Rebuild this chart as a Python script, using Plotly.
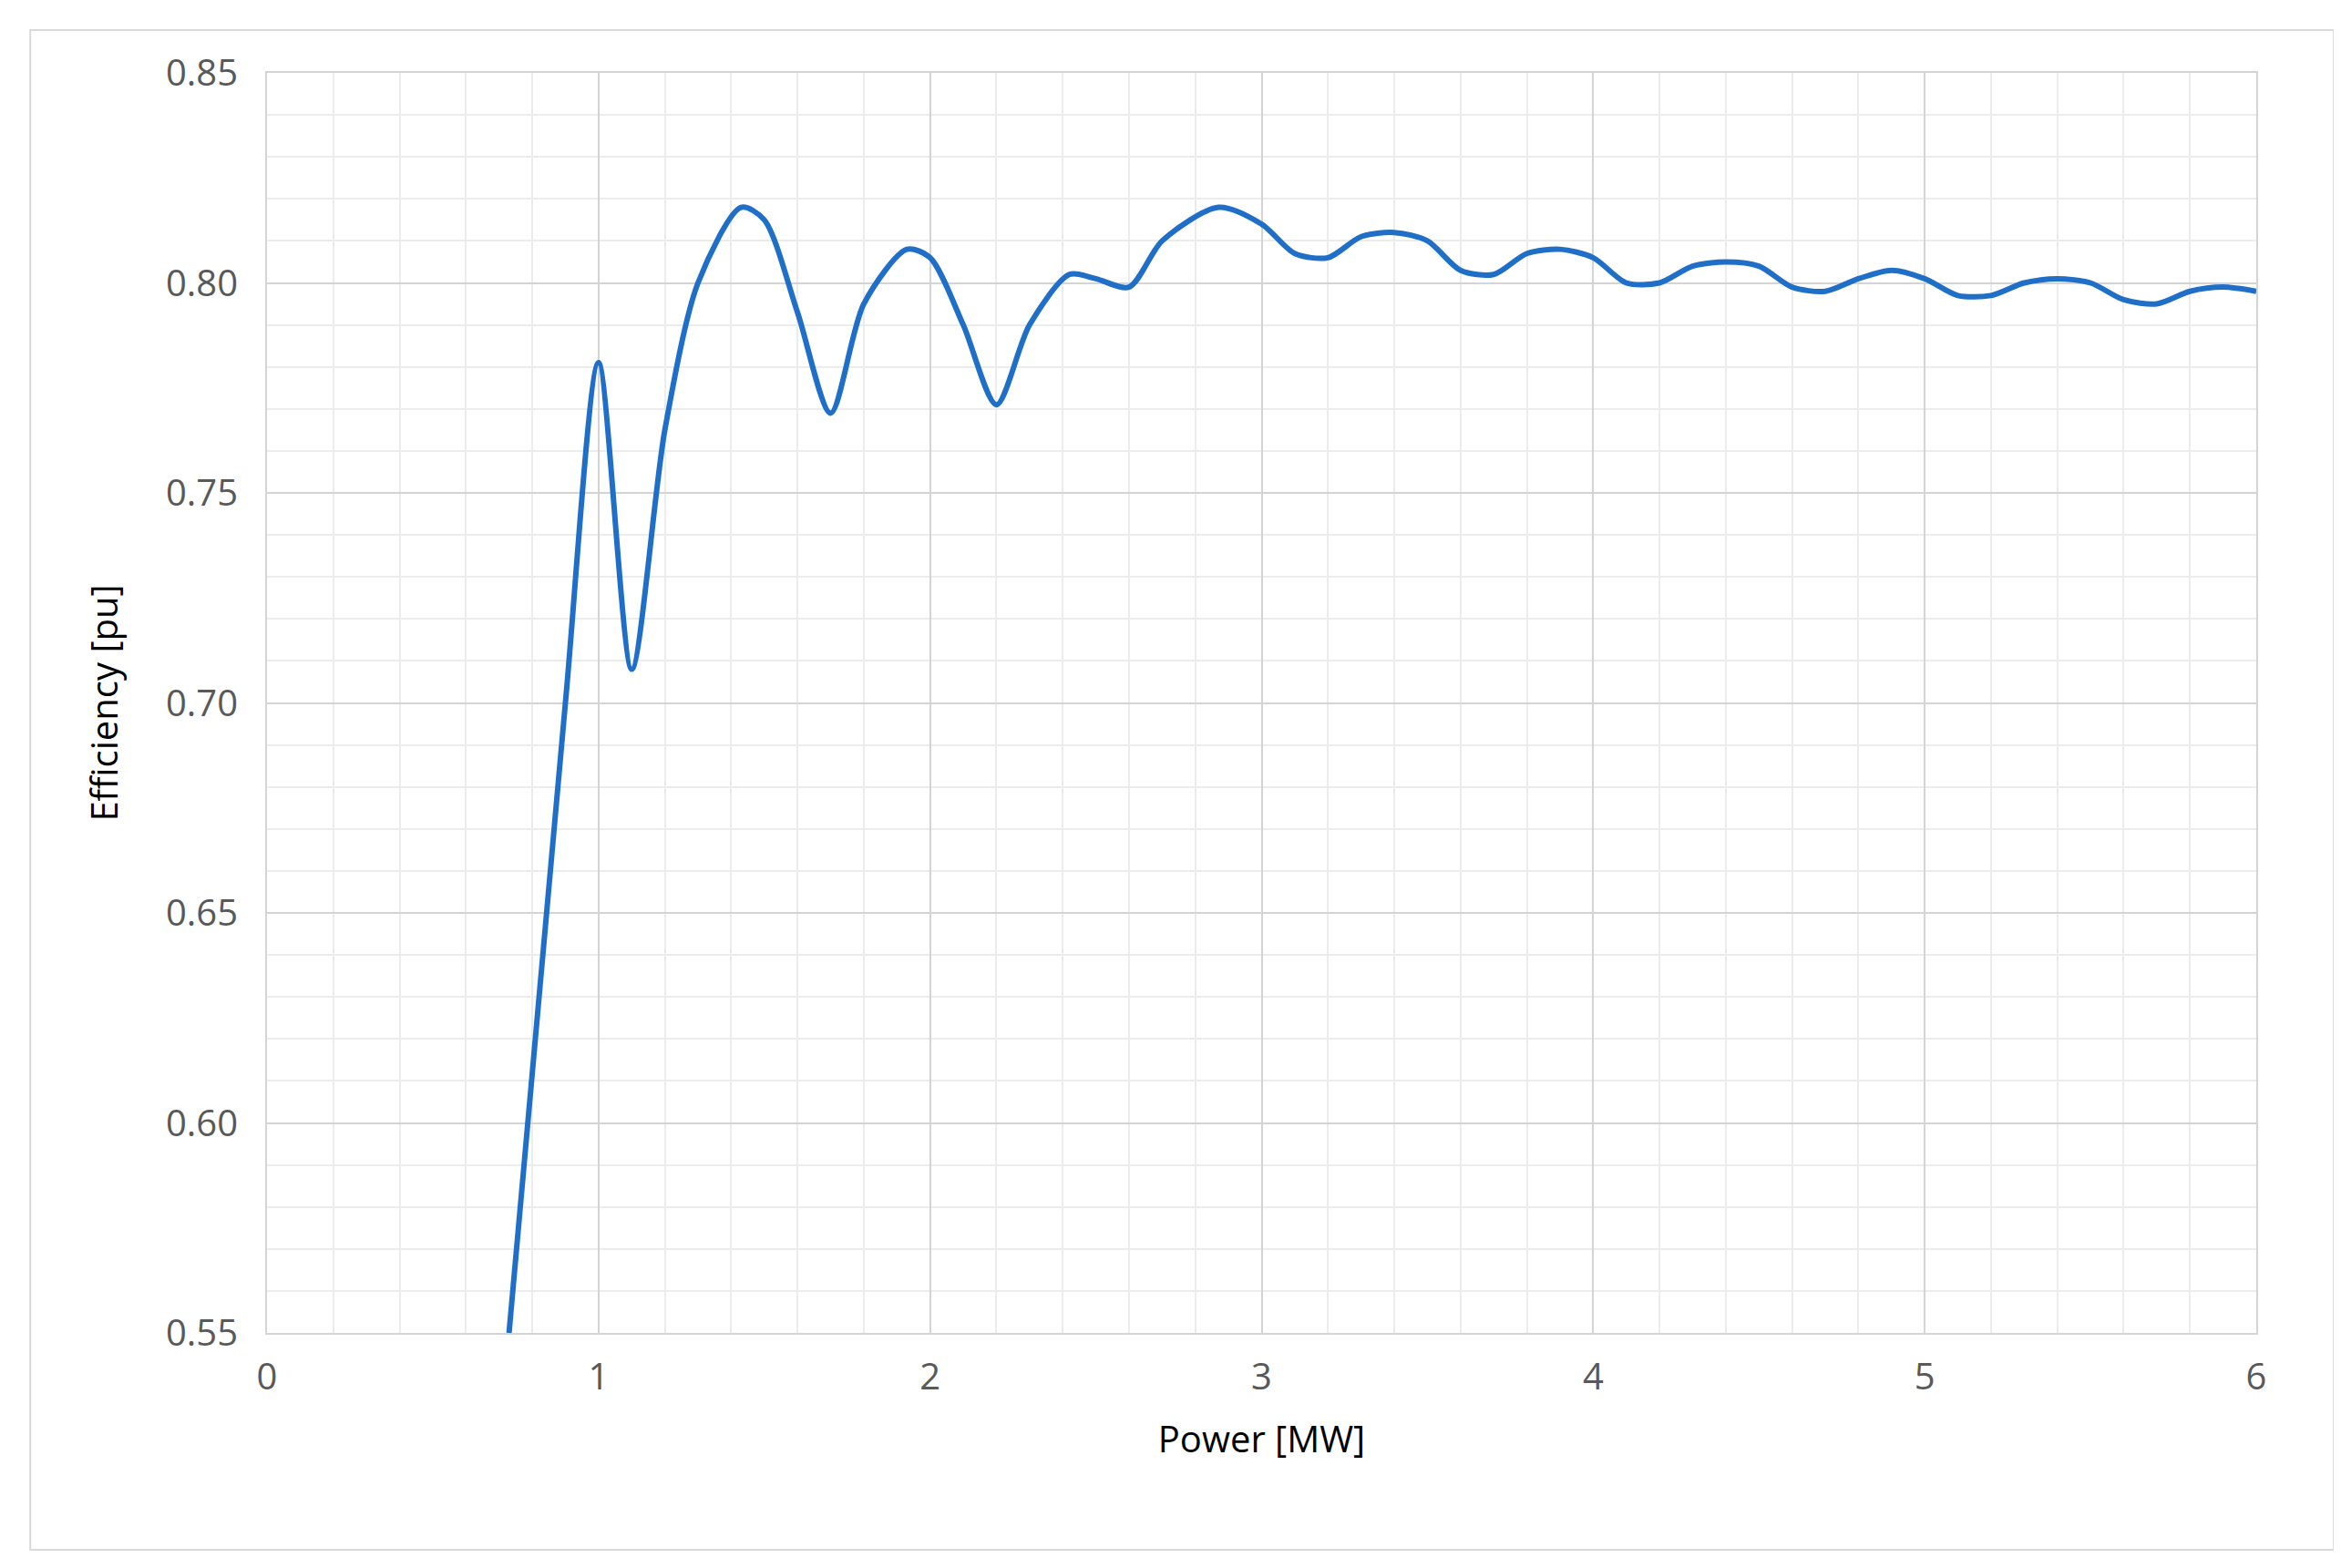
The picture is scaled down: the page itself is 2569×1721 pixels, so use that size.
import plotly.graph_objects as go

power = [0.73, 0.9, 1.0, 1.1, 1.2, 1.3, 1.43, 1.5, 1.6, 1.7, 1.8, 1.93, 2.0, 2.1, 2.2,
         2.3, 2.42, 2.5, 2.6, 2.7, 2.87, 3.0, 3.1, 3.2, 3.3, 3.4, 3.5, 3.6, 3.7, 3.8,
         3.9, 4.0, 4.1, 4.2, 4.3, 4.4, 4.5, 4.6, 4.7, 4.8, 4.9, 5.0, 5.1, 5.2, 5.3,
         5.4, 5.5, 5.6, 5.7, 5.8, 5.9, 6.0]
efficiency = [0.55, 0.70, 0.781, 0.708, 0.765, 0.80, 0.818, 0.815, 0.793, 0.769, 0.795,
              0.808, 0.806, 0.79, 0.771, 0.79, 0.802, 0.801, 0.799, 0.81, 0.818, 0.814,
              0.807, 0.806, 0.811, 0.812, 0.81, 0.803, 0.802, 0.807, 0.808, 0.806, 0.800,
              0.800, 0.804, 0.805, 0.804, 0.799, 0.798, 0.801, 0.803, 0.801, 0.797, 0.797,
              0.800, 0.801, 0.800, 0.796, 0.795, 0.798, 0.799, 0.798]

fig = go.Figure(go.Scatter(
    x=power, y=efficiency, mode='lines',
    line=dict(color='#1f6fc8', width=6, shape='spline', smoothing=0.8),
    showlegend=False,
))

tick_font = dict(family='Open Sans, Liberation Sans', size=40, color='#595959')
title_font = dict(family='Open Sans, Liberation Sans', size=40, color='black')

fig.update_xaxes(
    range=[0, 6], dtick=1, tickfont=tick_font, ticklabelstandoff=12,
    title=dict(text='Power [MW]', font=title_font, standoff=30),
    showgrid=True, gridcolor='#d4d4d4', gridwidth=2,
    minor=dict(dtick=0.2, showgrid=True, gridcolor='#ececec', gridwidth=2),
    showline=True, linecolor='#d4d4d4', linewidth=2, mirror=True,
    zeroline=False, ticks='',
)
fig.update_yaxes(
    range=[0.55, 0.85], dtick=0.05, tickformat='.2f', tickfont=tick_font,
    ticklabelstandoff=22,
    title=dict(text='Efficiency [pu]', font=title_font, standoff=40),
    showgrid=True, gridcolor='#d4d4d4', gridwidth=2,
    minor=dict(dtick=0.01, showgrid=True, gridcolor='#ececec', gridwidth=2),
    showline=True, linecolor='#d4d4d4', linewidth=2, mirror=True,
    zeroline=False, ticks='',
)

fig.update_layout(
    width=2569, height=1721,
    plot_bgcolor='white', paper_bgcolor='white',
    margin=dict(l=285, r=101, t=72, b=266),
    shapes=[dict(type='rect', xref='paper', yref='paper',
                 x0=-0.119, x1=1.039, y0=-0.172, y1=1.034,
                 line=dict(color='#d9d9d9', width=2))],
)

fig.write_html("out.html")
